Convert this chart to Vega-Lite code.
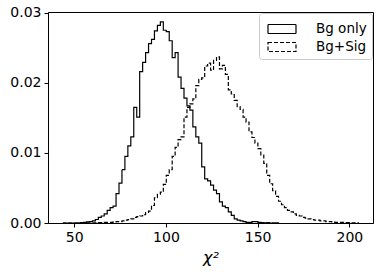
{
  "$schema": "https://vega.github.io/schema/vega-lite/v6.json",
  "width": 325,
  "height": 211,
  "autosize": {"type": "none"},
  "padding": {"left": 48, "top": 12, "right": 8, "bottom": 51},
  "config": {
    "font": "DejaVu Sans",
    "view": {"stroke": "black", "strokeWidth": 1},
    "axis": {"grid": false, "domainColor": "black", "tickColor": "black", "labelColor": "black", "titleColor": "black", "labelFont": "DejaVu Sans", "titleFont": "DejaVu Sans", "labelFontSize": 14, "tickSize": 4, "labelPadding": 3}
  },
  "data": {
    "values": [
      {"s": "Bg only", "x": 43.80, "y": 0.00003},
      {"s": "Bg only", "x": 45.41, "y": 0},
      {"s": "Bg only", "x": 47.02, "y": 0.00003},
      {"s": "Bg only", "x": 48.63, "y": 0},
      {"s": "Bg only", "x": 50.24, "y": 0.00003},
      {"s": "Bg only", "x": 51.86, "y": 0.00003},
      {"s": "Bg only", "x": 53.47, "y": 0.00006},
      {"s": "Bg only", "x": 55.08, "y": 0.0001},
      {"s": "Bg only", "x": 56.69, "y": 0.00015},
      {"s": "Bg only", "x": 58.30, "y": 0.0002},
      {"s": "Bg only", "x": 59.91, "y": 0.0003},
      {"s": "Bg only", "x": 61.52, "y": 0.0005},
      {"s": "Bg only", "x": 63.13, "y": 0.0008},
      {"s": "Bg only", "x": 64.74, "y": 0.0010},
      {"s": "Bg only", "x": 66.35, "y": 0.0013},
      {"s": "Bg only", "x": 67.97, "y": 0.0018},
      {"s": "Bg only", "x": 69.58, "y": 0.0022},
      {"s": "Bg only", "x": 71.19, "y": 0.0024},
      {"s": "Bg only", "x": 72.80, "y": 0.0042},
      {"s": "Bg only", "x": 74.41, "y": 0.0057},
      {"s": "Bg only", "x": 76.02, "y": 0.0076},
      {"s": "Bg only", "x": 77.63, "y": 0.0095},
      {"s": "Bg only", "x": 79.24, "y": 0.0110},
      {"s": "Bg only", "x": 80.85, "y": 0.0123},
      {"s": "Bg only", "x": 82.46, "y": 0.0165},
      {"s": "Bg only", "x": 84.08, "y": 0.0151},
      {"s": "Bg only", "x": 85.69, "y": 0.0216},
      {"s": "Bg only", "x": 87.30, "y": 0.0229},
      {"s": "Bg only", "x": 88.91, "y": 0.0243},
      {"s": "Bg only", "x": 90.52, "y": 0.0256},
      {"s": "Bg only", "x": 92.13, "y": 0.0262},
      {"s": "Bg only", "x": 93.74, "y": 0.0274},
      {"s": "Bg only", "x": 95.35, "y": 0.0282},
      {"s": "Bg only", "x": 96.96, "y": 0.0287},
      {"s": "Bg only", "x": 98.57, "y": 0.0275},
      {"s": "Bg only", "x": 100.19, "y": 0.0273},
      {"s": "Bg only", "x": 101.80, "y": 0.0260},
      {"s": "Bg only", "x": 103.41, "y": 0.0236},
      {"s": "Bg only", "x": 105.02, "y": 0.0243},
      {"s": "Bg only", "x": 106.63, "y": 0.0208},
      {"s": "Bg only", "x": 108.24, "y": 0.0192},
      {"s": "Bg only", "x": 109.85, "y": 0.0178},
      {"s": "Bg only", "x": 111.46, "y": 0.0167},
      {"s": "Bg only", "x": 113.07, "y": 0.0161},
      {"s": "Bg only", "x": 114.68, "y": 0.0137},
      {"s": "Bg only", "x": 116.30, "y": 0.0123},
      {"s": "Bg only", "x": 117.91, "y": 0.0114},
      {"s": "Bg only", "x": 119.52, "y": 0.0080},
      {"s": "Bg only", "x": 121.13, "y": 0.0063},
      {"s": "Bg only", "x": 122.74, "y": 0.0060},
      {"s": "Bg only", "x": 124.35, "y": 0.0054},
      {"s": "Bg only", "x": 125.96, "y": 0.0047},
      {"s": "Bg only", "x": 127.57, "y": 0.0042},
      {"s": "Bg only", "x": 129.18, "y": 0.0030},
      {"s": "Bg only", "x": 130.79, "y": 0.0024},
      {"s": "Bg only", "x": 132.41, "y": 0.0022},
      {"s": "Bg only", "x": 134.02, "y": 0.0016},
      {"s": "Bg only", "x": 135.63, "y": 0.0011},
      {"s": "Bg only", "x": 137.24, "y": 0.0006},
      {"s": "Bg only", "x": 138.85, "y": 0.0004},
      {"s": "Bg only", "x": 140.46, "y": 0.0003},
      {"s": "Bg only", "x": 142.07, "y": 0.0002},
      {"s": "Bg only", "x": 143.68, "y": 0.0001},
      {"s": "Bg only", "x": 145.29, "y": 0.0001},
      {"s": "Bg only", "x": 146.90, "y": 0.0002},
      {"s": "Bg only", "x": 148.52, "y": 0.0002},
      {"s": "Bg only", "x": 150.13, "y": 0.0001},
      {"s": "Bg only", "x": 151.74, "y": 0.00005},
      {"s": "Bg only", "x": 153.35, "y": 0.00003},
      {"s": "Bg only", "x": 154.96, "y": 0.00005},
      {"s": "Bg only", "x": 156.57, "y": 0},
      {"s": "Bg only", "x": 158.18, "y": 0.00003},
      {"s": "Bg only", "x": 159.79, "y": 0.00003},
      {"s": "Bg only", "x": 161.40, "y": 0},
      {"s": "Bg+Sig", "x": 56.69, "y": 0.00002},
      {"s": "Bg+Sig", "x": 58.30, "y": 0.00002},
      {"s": "Bg+Sig", "x": 59.91, "y": 0.00003},
      {"s": "Bg+Sig", "x": 61.52, "y": 0.00003},
      {"s": "Bg+Sig", "x": 63.13, "y": 0.00005},
      {"s": "Bg+Sig", "x": 64.74, "y": 0.00005},
      {"s": "Bg+Sig", "x": 66.35, "y": 0.00008},
      {"s": "Bg+Sig", "x": 67.97, "y": 0.0001},
      {"s": "Bg+Sig", "x": 69.58, "y": 0.0001},
      {"s": "Bg+Sig", "x": 71.19, "y": 0.00015},
      {"s": "Bg+Sig", "x": 72.80, "y": 0.0002},
      {"s": "Bg+Sig", "x": 74.41, "y": 0.0002},
      {"s": "Bg+Sig", "x": 76.02, "y": 0.0003},
      {"s": "Bg+Sig", "x": 77.63, "y": 0.0004},
      {"s": "Bg+Sig", "x": 79.24, "y": 0.0005},
      {"s": "Bg+Sig", "x": 80.85, "y": 0.0006},
      {"s": "Bg+Sig", "x": 82.46, "y": 0.0008},
      {"s": "Bg+Sig", "x": 84.08, "y": 0.0009},
      {"s": "Bg+Sig", "x": 85.69, "y": 0.0010},
      {"s": "Bg+Sig", "x": 87.30, "y": 0.0012},
      {"s": "Bg+Sig", "x": 88.91, "y": 0.0015},
      {"s": "Bg+Sig", "x": 90.52, "y": 0.0017},
      {"s": "Bg+Sig", "x": 92.13, "y": 0.0025},
      {"s": "Bg+Sig", "x": 93.74, "y": 0.0036},
      {"s": "Bg+Sig", "x": 95.35, "y": 0.0041},
      {"s": "Bg+Sig", "x": 96.96, "y": 0.0044},
      {"s": "Bg+Sig", "x": 98.57, "y": 0.0055},
      {"s": "Bg+Sig", "x": 100.19, "y": 0.0068},
      {"s": "Bg+Sig", "x": 101.80, "y": 0.0076},
      {"s": "Bg+Sig", "x": 103.41, "y": 0.0095},
      {"s": "Bg+Sig", "x": 105.02, "y": 0.0108},
      {"s": "Bg+Sig", "x": 106.63, "y": 0.0119},
      {"s": "Bg+Sig", "x": 108.24, "y": 0.0123},
      {"s": "Bg+Sig", "x": 109.85, "y": 0.0151},
      {"s": "Bg+Sig", "x": 111.46, "y": 0.0165},
      {"s": "Bg+Sig", "x": 113.07, "y": 0.0170},
      {"s": "Bg+Sig", "x": 114.68, "y": 0.0177},
      {"s": "Bg+Sig", "x": 116.30, "y": 0.0196},
      {"s": "Bg+Sig", "x": 117.91, "y": 0.0205},
      {"s": "Bg+Sig", "x": 119.52, "y": 0.0207},
      {"s": "Bg+Sig", "x": 121.13, "y": 0.0224},
      {"s": "Bg+Sig", "x": 122.74, "y": 0.0228},
      {"s": "Bg+Sig", "x": 124.35, "y": 0.0218},
      {"s": "Bg+Sig", "x": 125.96, "y": 0.0232},
      {"s": "Bg+Sig", "x": 127.57, "y": 0.0237},
      {"s": "Bg+Sig", "x": 129.18, "y": 0.0220},
      {"s": "Bg+Sig", "x": 130.79, "y": 0.0225},
      {"s": "Bg+Sig", "x": 132.41, "y": 0.0212},
      {"s": "Bg+Sig", "x": 134.02, "y": 0.0190},
      {"s": "Bg+Sig", "x": 135.63, "y": 0.0184},
      {"s": "Bg+Sig", "x": 137.24, "y": 0.0175},
      {"s": "Bg+Sig", "x": 138.85, "y": 0.0166},
      {"s": "Bg+Sig", "x": 140.46, "y": 0.0162},
      {"s": "Bg+Sig", "x": 142.07, "y": 0.0151},
      {"s": "Bg+Sig", "x": 143.68, "y": 0.0144},
      {"s": "Bg+Sig", "x": 145.29, "y": 0.0130},
      {"s": "Bg+Sig", "x": 146.90, "y": 0.0122},
      {"s": "Bg+Sig", "x": 148.52, "y": 0.0114},
      {"s": "Bg+Sig", "x": 150.13, "y": 0.0106},
      {"s": "Bg+Sig", "x": 151.74, "y": 0.0097},
      {"s": "Bg+Sig", "x": 153.35, "y": 0.0085},
      {"s": "Bg+Sig", "x": 154.96, "y": 0.0068},
      {"s": "Bg+Sig", "x": 156.57, "y": 0.0056},
      {"s": "Bg+Sig", "x": 158.18, "y": 0.0046},
      {"s": "Bg+Sig", "x": 159.79, "y": 0.0038},
      {"s": "Bg+Sig", "x": 161.40, "y": 0.0031},
      {"s": "Bg+Sig", "x": 163.01, "y": 0.0026},
      {"s": "Bg+Sig", "x": 164.63, "y": 0.0022},
      {"s": "Bg+Sig", "x": 166.24, "y": 0.0018},
      {"s": "Bg+Sig", "x": 167.85, "y": 0.0016},
      {"s": "Bg+Sig", "x": 169.46, "y": 0.0013},
      {"s": "Bg+Sig", "x": 171.07, "y": 0.0011},
      {"s": "Bg+Sig", "x": 172.68, "y": 0.0010},
      {"s": "Bg+Sig", "x": 174.29, "y": 0.0008},
      {"s": "Bg+Sig", "x": 175.90, "y": 0.0007},
      {"s": "Bg+Sig", "x": 177.51, "y": 0.0006},
      {"s": "Bg+Sig", "x": 179.12, "y": 0.0005},
      {"s": "Bg+Sig", "x": 180.74, "y": 0.0004},
      {"s": "Bg+Sig", "x": 182.35, "y": 0.0004},
      {"s": "Bg+Sig", "x": 183.96, "y": 0.0003},
      {"s": "Bg+Sig", "x": 185.57, "y": 0.0003},
      {"s": "Bg+Sig", "x": 187.18, "y": 0.0002},
      {"s": "Bg+Sig", "x": 188.79, "y": 0.0002},
      {"s": "Bg+Sig", "x": 190.40, "y": 0.00015},
      {"s": "Bg+Sig", "x": 192.01, "y": 0.0001},
      {"s": "Bg+Sig", "x": 193.62, "y": 0.0001},
      {"s": "Bg+Sig", "x": 195.23, "y": 0.00008},
      {"s": "Bg+Sig", "x": 196.85, "y": 0.00005},
      {"s": "Bg+Sig", "x": 198.46, "y": 0.00005},
      {"s": "Bg+Sig", "x": 200.07, "y": 0.00003},
      {"s": "Bg+Sig", "x": 201.68, "y": 0.00003},
      {"s": "Bg+Sig", "x": 203.29, "y": 0.00002},
      {"s": "Bg+Sig", "x": 204.90, "y": 0}
    ]
  },
  "mark": {"type": "line", "interpolate": "step-after", "color": "black", "strokeWidth": 1.2},
  "encoding": {
    "x": {
      "field": "x", "type": "quantitative",
      "scale": {"domain": [35.7, 212.9], "nice": false, "zero": false},
      "axis": {"values": [50, 100, 150, 200], "title": "χ²", "titleFontSize": 16, "titleFontStyle": "italic", "titleFontWeight": "normal", "titlePadding": 5}
    },
    "y": {
      "field": "y", "type": "quantitative",
      "scale": {"domain": [0, 0.0301], "nice": false},
      "axis": {"values": [0, 0.01, 0.02, 0.03], "format": ".2f", "title": null}
    },
    "strokeDash": {
      "field": "s", "type": "nominal",
      "scale": {"domain": ["Bg only", "Bg+Sig"], "range": [[1, 0], [4, 2]]},
      "legend": {
        "title": null,
        "orient": "top-right",
        "offset": 1,
        "padding": 5,
        "strokeColor": "#cccccc",
        "cornerRadius": 3,
        "fillColor": "white",
        "labelFont": "DejaVu Sans",
        "labelFontSize": 13.5,
        "labelColor": "black",
        "symbolType": "M-1.4,-0.45H1.4V0.45H-1.4Z",
        "symbolSize": 400,
        "symbolOffset": 7,
        "symbolStrokeColor": "black",
        "symbolStrokeWidth": 1.2,
        "symbolFillColor": "transparent",
        "labelOffset": 23,
        "rowPadding": 0
      }
    }
  }
}
